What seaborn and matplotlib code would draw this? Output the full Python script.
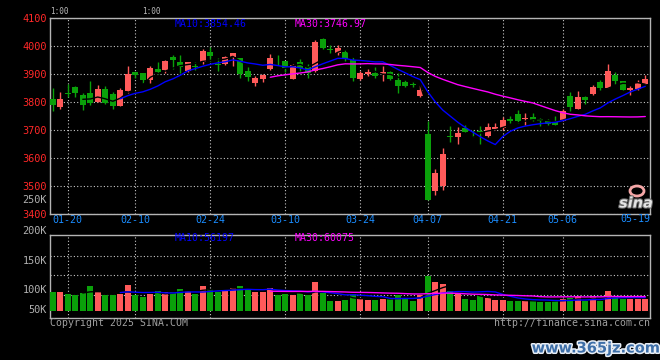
import numpy as np
import pandas as pd
import matplotlib
matplotlib.use("Agg")
import matplotlib.pyplot as plt
import seaborn as sns
from matplotlib import patheffects
from matplotlib.patches import Ellipse

# daily candles, 2025-01-16 .. 2025-05-21
dates = ["01-16", "01-17", "01-20", "01-21", "01-22", "01-23", "01-24", "01-27",
         "02-05", "02-06", "02-07", "02-10", "02-11", "02-12", "02-13", "02-14",
         "02-17", "02-18", "02-19", "02-20", "02-21", "02-24", "02-25", "02-26",
         "02-27", "02-28", "03-03", "03-04", "03-05", "03-06", "03-07", "03-10",
         "03-11", "03-12", "03-13", "03-14", "03-17", "03-18", "03-19", "03-20",
         "03-21", "03-24", "03-25", "03-26", "03-27", "03-28", "03-31", "04-01",
         "04-02", "04-03", "04-07", "04-08", "04-09", "04-10", "04-11", "04-14",
         "04-15", "04-16", "04-17", "04-18", "04-21", "04-22", "04-23", "04-24",
         "04-25", "04-28", "04-29", "04-30", "05-06", "05-07", "05-08", "05-09",
         "05-12", "05-13", "05-14", "05-15", "05-16", "05-19", "05-20", "05-21"]

open_ = [3811, 3782, 3833, 3854, 3825, 3832, 3798, 3845, 3829, 3786,
         3839, 3907, 3904, 3879, 3918, 3914, 3961, 3943, 3912, 3930,
         3942, 3979, 3936, 3935, 3960, 3956, 3912, 3869, 3883, 3916,
         3944, 3946, 3882, 3941, 3924, 3912, 4025, 3988, 3974, 3980,
         3950, 3882, 3900, 3905, 3898, 3908, 3879, 3870, 3863, 3822,
         3686, 3482, 3498, 3679, 3676, 3708, 3694, 3697, 3679, 3702,
         3706, 3738, 3757, 3738, 3745, 3739, 3730, 3727, 3733, 3822,
         3775, 3816, 3829, 3871, 3851, 3896, 3873, 3841, 3846, 3864]
close = [3789, 3811, 3827, 3830, 3789, 3795, 3846, 3795, 3786, 3843,
         3900, 3896, 3879, 3922, 3907, 3946, 3948, 3925, 3942, 3926,
         3983, 3965, 3931, 3960, 3975, 3898, 3888, 3887, 3896, 3957,
         3941, 3920, 3932, 3920, 3902, 4013, 3994, 3985, 3993, 3952,
         3885, 3905, 3908, 3891, 3906, 3882, 3858, 3858, 3861, 3841,
         3450, 3545, 3614, 3674, 3689, 3694, 3692, 3694, 3710, 3711,
         3736, 3733, 3733, 3742, 3736, 3733, 3720, 3716, 3768, 3782,
         3818, 3807, 3854, 3851, 3911, 3873, 3843, 3848, 3869, 3882]
high = [3849, 3836, 3864, 3857, 3831, 3875, 3861, 3857, 3836, 3850,
        3929, 3908, 3904, 3929, 3942, 3948, 3968, 3968, 3944, 3942,
        3989, 3998, 3956, 3964, 3975, 3956, 3926, 3893, 3899, 3971,
        3968, 3946, 3935, 3954, 3936, 4021, 4030, 4004, 4004, 3990,
        3962, 3912, 3917, 3923, 3929, 3912, 3902, 3879, 3876, 3861,
        3732, 3560, 3636, 3714, 3710, 3718, 3700, 3712, 3724, 3724,
        3745, 3750, 3772, 3760, 3760, 3742, 3738, 3750, 3775, 3837,
        3839, 3822, 3861, 3879, 3936, 3907, 3876, 3857, 3879, 3896]
low = [3769, 3776, 3819, 3816, 3772, 3789, 3798, 3793, 3776, 3785,
       3833, 3885, 3867, 3866, 3901, 3905, 3917, 3902, 3906, 3914,
       3935, 3946, 3912, 3932, 3930, 3887, 3876, 3858, 3870, 3914,
       3932, 3908, 3882, 3912, 3887, 3908, 3989, 3974, 3968, 3947,
       3873, 3880, 3891, 3887, 3873, 3879, 3833, 3852, 3852, 3819,
       3450, 3468, 3486, 3655, 3650, 3694, 3676, 3650, 3676, 3698,
       3700, 3726, 3726, 3718, 3730, 3714, 3718, 3716, 3733, 3768,
       3774, 3793, 3824, 3841, 3851, 3863, 3841, 3825, 3841, 3864]
volume = [82000, 82000, 73500, 68000, 76500, 107000, 86500, 68000, 68000, 72000,
          111000, 68000, 59000, 71000, 85000, 81000, 81000, 94000, 85000, 73500,
          107000, 94000, 81000, 89500, 98000, 107000, 94000, 81000, 81000, 98000,
          68000, 72000, 68000, 76500, 68000, 124000, 76500, 42000, 42000, 46000,
          72000, 56000, 46000, 46000, 52000, 52000, 66500, 50600, 42000, 66500,
          151000, 124000, 115000, 85000, 72000, 50600, 46000, 63500, 56000, 46000,
          46000, 42000, 42000, 42000, 42000, 39000, 39000, 46000, 50600, 53500,
          63500, 42000, 63500, 42000, 85000, 63500, 50600, 50600, 50600, 50600]

tick_dates = ["01-20", "02-10", "02-24", "03-10", "03-24", "04-07", "04-21", "05-06"]
last_label = "05-19"
price_ticks = [3400, 3500, 3600, 3700, 3800, 3900, 4000, 4100]
vol_labels = ["250K", "200K", "150K", "100K", "50K"]

RED = "#ff5a5a"
GREEN = "#0aa00a"
GRID = "#c8c8c8"
SPINE = "#b4b4b4"

sns.set_theme(style="dark", rc={"axes.facecolor": "black", "figure.facecolor": "black",
                                "savefig.facecolor": "black"})
plt.rcParams['font.family'] = ['DejaVu Sans Mono', 'DejaVu Sans']

df = pd.DataFrame({"x": np.arange(len(dates)), "open": open_, "close": close,
                   "high": high, "low": low, "vol": volume})
for n in (5, 10, 30):
    df[f"ma{n}"] = df["close"].rolling(n).mean()
    df[f"vma{n}"] = df["vol"].rolling(n).mean()
colors = np.where(df["close"] >= df["open"], RED, GREEN)

W, H = 660, 360
fig = plt.figure(figsize=(W / 100, H / 100), dpi=100)


def fx(px):
    return px / W


def fy(py):
    return 1 - py / H


ax1 = fig.add_axes([fx(50), fy(213.7), fx(600), (213.7 - 18) / H])
ax2 = fig.add_axes([fx(50), fy(318.3), fx(600), (318.3 - 235) / H])

xlim = (-0.37, 79.63)
tick_pos = [dates.index(d) for d in tick_dates]

# candles
ax1.vlines(df["x"], df["low"], df["high"], colors=colors, lw=1, zorder=3)
body_lo = np.minimum(df["open"], df["close"])
body_h = np.maximum((df["close"] - df["open"]).abs(), 1.6)
ax1.bar(df["x"], body_h, bottom=body_lo, width=0.78, color=colors, lw=0, zorder=3)

sns.lineplot(data=df, x="x", y="ma5", ax=ax1, color="black", lw=1, zorder=4)
sns.lineplot(data=df, x="x", y="ma10", ax=ax1, color="#0000ff", lw=1, zorder=5)
sns.lineplot(data=df, x="x", y="ma30", ax=ax1, color="#ff00ff", lw=1, zorder=5)

ax1.set_xlim(*xlim)
ax1.set_ylim(3400, 4100)
ax1.set_yticks(price_ticks)
ax1.set_yticklabels([str(p) for p in price_ticks])
ax1.set_xticks(tick_pos)
ax1.set_xticklabels(tick_dates)
ax1.tick_params(axis="y", length=0, pad=2, labelcolor="#ff2828", labelsize=7.4)
ax1.tick_params(axis="x", length=0, pad=1, labelcolor="#1a8cff", labelsize=7.2)
ax1.text(1.0, -0.0, last_label, transform=ax1.transAxes, ha="right", va="top",
         color="#1a8cff", fontsize=7.2)
ax1.set_xlabel("")
ax1.set_ylabel("")

# volume
ax2.bar(df["x"], df["vol"], width=0.8, color=colors, lw=0, zorder=3)
sns.lineplot(data=df, x="x", y="vma5", ax=ax2, color="black", lw=1, zorder=4)
sns.lineplot(data=df, x="x", y="vma10", ax=ax2, color="#0000ff", lw=1, zorder=5)
sns.lineplot(data=df, x="x", y="vma30", ax=ax2, color="#ff00ff", lw=1, zorder=5)
ax2.set_xlim(*xlim)
ax2.set_ylim(-33000, 327000)
ax2.set_xticks(tick_pos)
ax2.set_xticklabels([])
ax2.set_yticks([])
ax2.tick_params(length=0)
ax2.set_xlabel("")
ax2.set_ylabel("")
for f in (0.276, 0.516, 0.751):
    ax2.plot([0, 1], [f, f], transform=ax2.transAxes, color=GRID,
             ls=(0, (1, 2)), lw=0.8, zorder=1)

for ax in (ax1, ax2):
    ax.grid(False)
    ax.xaxis.grid(True, color=GRID, ls=(0, (1, 2)), lw=0.8, zorder=1)
    for s in ax.spines.values():
        s.set_color(SPINE)
        s.set_linewidth(1)
        s.set_visible(True)
ax1.yaxis.grid(True, color=GRID, ls=(0, (1, 2)), lw=0.8, zorder=1)
ax1.set_axisbelow(True)
ax2.set_axisbelow(True)

# legends / labels
fig.text(fx(175), fy(24), f"MA10:{3854.46:.2f}", color="#0000ff", fontsize=7.1, va="center")
fig.text(fx(295), fy(24), f"MA30:{3746.97:.2f}", color="#ff00ff", fontsize=7.1, va="center")
fig.text(fx(175), fy(238), "MA10:56197", color="#0000ff", fontsize=7.1, va="center")
fig.text(fx(295), fy(238), "MA30:60075", color="#ff00ff", fontsize=7.1, va="center")

for lab, py in zip(vol_labels, (200, 231, 260.7, 290.3, 310.3)):
    fig.text(fx(47), fy(py), lab, color="#b0b0b0", fontsize=7.4, ha="right", va="center")

fig.text(fx(50), fy(11.5), "1:00", color="#bbbbbb", fontsize=5.5, va="center")
fig.text(fx(142), fy(11.5), "1:00", color="#bbbbbb", fontsize=5.5, va="center")

fig.text(fx(50), fy(323.5), "Copyright 2025 SINA.COM", color="#a0a0a0", fontsize=7.1, va="center")
fig.text(fx(650), fy(323.5), "http://finance.sina.com.cn", color="#a0a0a0", fontsize=7.1,
         ha="right", va="center")

# sina logo
fig.add_artist(Ellipse((fx(637), fy(191)), fx(14), 10 / H, transform=fig.transFigure,
                       fill=False, edgecolor="#f4a6a6", lw=2))
fig.text(fx(636), fy(203), "sina", color="#e4e4e4", fontsize=10.5, fontweight="bold",
         style="italic", family="DejaVu Sans", ha="center", va="center",
         path_effects=[patheffects.withStroke(linewidth=1.5, foreground="#666666")])

# watermark
fig.text(fx(596), fy(348), "www.365jz.com", color="#3e6fa8", fontsize=10.5, fontweight="bold",
         family="DejaVu Sans", ha="center", va="center",
         path_effects=[patheffects.withStroke(linewidth=2.2, foreground="#e8eef6")])

fig.savefig("out.png", dpi=100, facecolor="black")
